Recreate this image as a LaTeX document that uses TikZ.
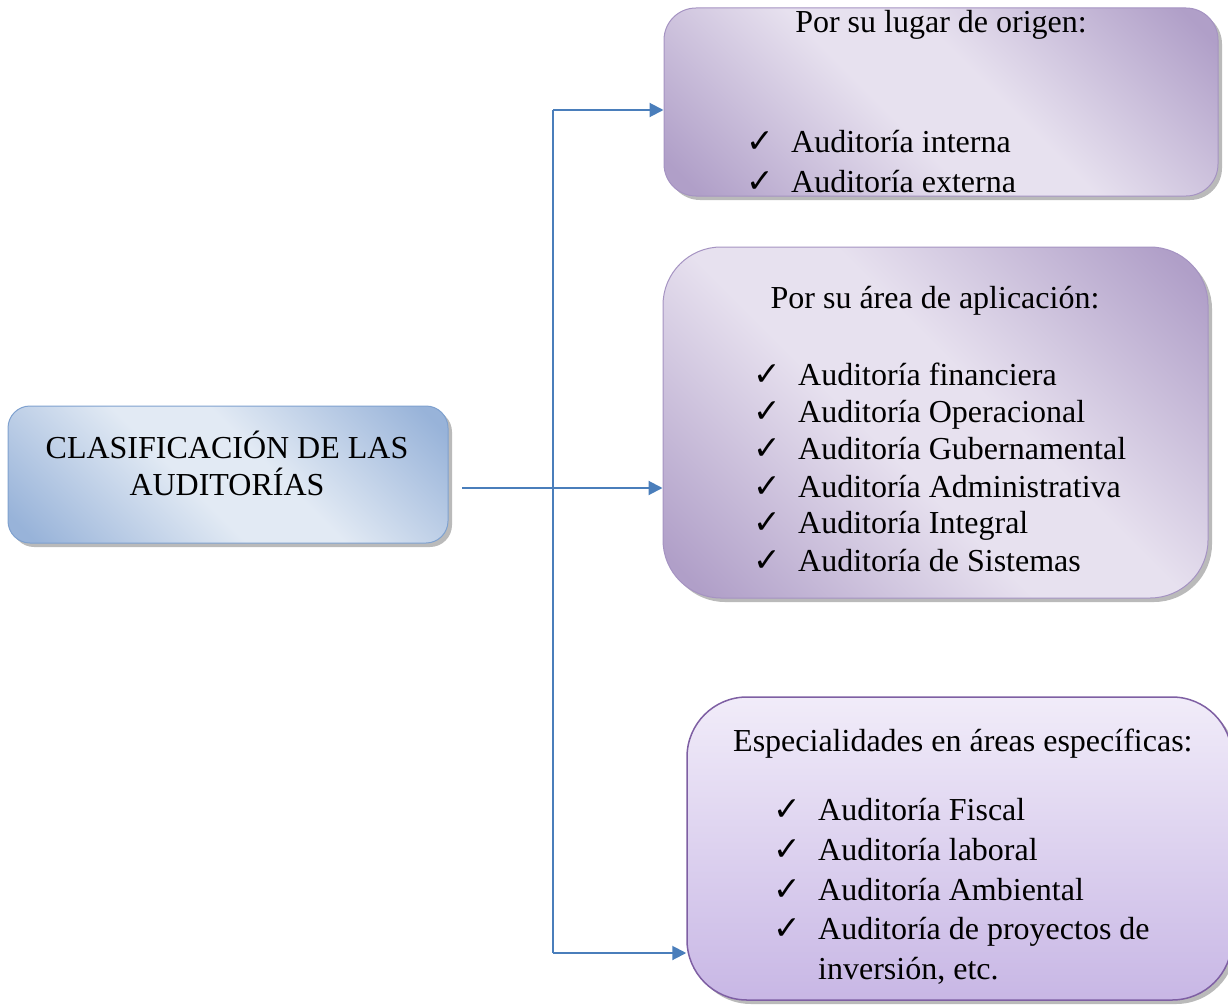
\documentclass[tikz,border=0pt]{standalone}
\usepackage{fontspec}
\setmainfont{Liberation Serif}
\newfontfamily\chkfont{DejaVu Sans}
\usetikzlibrary{arrows.meta,shadows}
\definecolor{blueD}{HTML}{98B3D9}
\definecolor{blueL}{HTML}{E2EAF4}
\definecolor{blueB}{HTML}{7FA1CF}
\definecolor{purD}{HTML}{B09FC8}
\definecolor{purL}{HTML}{E7E1EF}
\definecolor{purB}{HTML}{A593C2}
\definecolor{pur3T}{HTML}{F1ECF9}
\definecolor{pur3B}{HTML}{C8B7E5}
\definecolor{pur3E}{HTML}{7E5FA3}
\definecolor{conncol}{HTML}{4A7EBB}
\pgfdeclareverticalshading{bluediag}{100bp}{color(0bp)=(blueD); color(18bp)=(blueD); color(44bp)=(blueL); color(56bp)=(blueL); color(82bp)=(blueD); color(100bp)=(blueD)}
\pgfdeclareverticalshading{purdiag}{100bp}{color(0bp)=(purD); color(18bp)=(purD); color(44bp)=(purL); color(56bp)=(purL); color(82bp)=(purD); color(100bp)=(purD)}
\tikzset{
  shad/.style={drop shadow={shadow xshift=4pt,shadow yshift=-4pt,fill=black!45,opacity=.6}},
  bluebox/.style={draw=blueB,line width=1pt,rounded corners=22pt,shad,
    shading=bluediag,shading angle=-45,inner sep=0},
  purbox/.style={draw=purB,line width=1pt,shad,
    shading=purdiag,shading angle=-45,inner sep=0},
  purbox3/.style={draw=pur3E,line width=1.5pt,rounded corners=60pt,shad,
    top color=pur3T,bottom color=pur3B,inner sep=0},
  txt/.style={anchor=base west,inner sep=0,font=\fontsize{32}{38}\selectfont},
  ttl/.style={anchor=base,inner sep=0,font=\fontsize{32}{38}\selectfont},
  chk/.style={anchor=base west,inner sep=0,font=\chkfont\fontsize{33}{40}\selectfont},
  conn/.style={draw=conncol,line width=2pt},
  arr/.style={conn,-{Triangle[length=14pt,width=14pt]}}
}
\begin{document}
\begin{tikzpicture}[x=1pt,y=-1pt]
\useasboundingbox (0,0) rectangle (1228,1006);
% boxes
\node[bluebox,minimum width=440pt,minimum height=137pt] (L) at (228,474.5) {};
\node[purbox,rounded corners=32pt,minimum width=554pt,minimum height=188pt] (B1) at (941,102) {};
\node[purbox,rounded corners=58pt,minimum width=545pt,minimum height=351pt] (B2) at (935.5,422.5) {};
\node[purbox3,minimum width=545pt,minimum height=303pt] (B3) at (959.5,848.5) {};
% left text
\node[ttl] (L1) at (227,458) {CLASIFICACIÓN DE LAS};
\node[ttl] (L2) at (227,495) {AUDITORÍAS};
% box 1
\node[ttl] (T1) at (941,33) {Por su lugar de origen:};
\node[chk] (c11) at (746,152) {✓};
\node[txt] (a11) at (791,152) {Auditoría interna};
\node[chk] (c12) at (746,192) {✓};
\node[txt] (a12) at (791,192) {Auditoría externa};
% box 2
\node[ttl] (T2) at (935,308) {Por su área de aplicación:};
\node[chk] (c21) at (753,385) {✓};
\node[txt] (a21) at (798,385) {Auditoría financiera};
\node[chk] (c22) at (753,422) {✓};
\node[txt] (a22) at (798,422) {Auditoría Operacional};
\node[chk] (c23) at (753,459) {✓};
\node[txt] (a23) at (798,459) {Auditoría Gubernamental};
\node[chk] (c24) at (753,497) {✓};
\node[txt] (a24) at (798,497) {Auditoría Administrativa};
\node[chk] (c25) at (753,533) {✓};
\node[txt] (a25) at (798,533) {Auditoría Integral};
\node[chk] (c26) at (753,571) {✓};
\node[txt] (a26) at (798,571) {Auditoría de Sistemas};
% box 3
\node[txt] (T3) at (733,751) {Especialidades en áreas específicas:};
\node[chk] (c31) at (773,820) {✓};
\node[txt] (a31) at (818,820) {Auditoría Fiscal};
\node[chk] (c32) at (773,860) {✓};
\node[txt] (a32) at (818,860) {Auditoría laboral};
\node[chk] (c33) at (773,900) {✓};
\node[txt] (a33) at (818,900) {Auditoría Ambiental};
\node[chk] (c34) at (773,939) {✓};
\node[txt] (a34) at (818,939) {Auditoría de proyectos de};
\node[txt] (a35) at (818,979) {inversión, etc.};
% connectors
\coordinate (top) at (553,110);
\coordinate (bot) at (553,953);
\coordinate (start) at (462,488);
\draw[conn] (top) -- (bot);
\draw[arr] (top) -- (top -| B1.west);
\draw[arr] (start) -- (start -| B2.west);
\draw[arr] (bot) -- (bot -| B3.west);
\end{tikzpicture}
\end{document}
